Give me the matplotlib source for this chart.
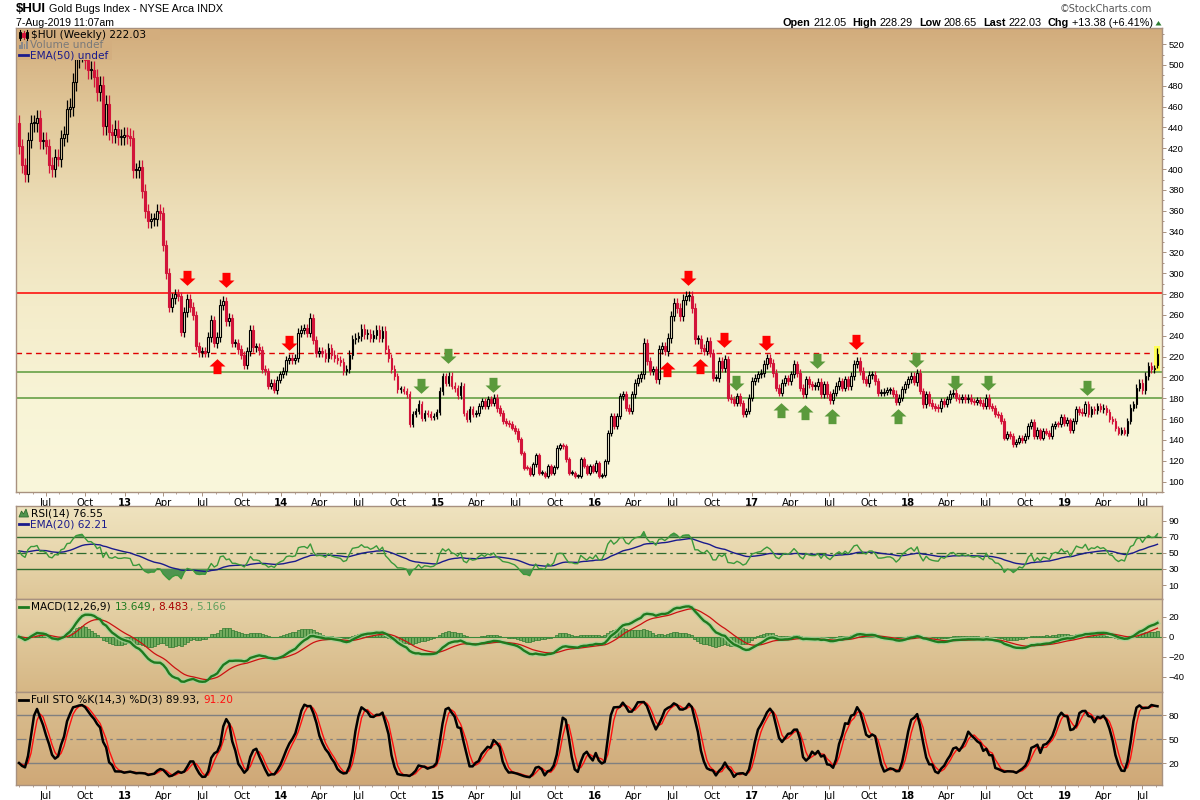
import numpy as np
import pandas as pd
import matplotlib
matplotlib.use('Agg')
import matplotlib.pyplot as plt
from matplotlib.path import Path
from matplotlib.colors import LinearSegmentedColormap
from matplotlib.transforms import Affine2D
from matplotlib.patches import Rectangle, Polygon
from matplotlib.lines import Line2D

# ---------------- data ----------------
START_DATE = '2012-04-30'
FIRST_OPEN = 444.0
LAST_OPEN, LAST_HIGH, LAST_LOW = 212.05, 228.29, 208.65

closes_2012_2014 = [422, 404, 395, 428, 444, 444, 449, 427, 428, 422,
                    404, 400, 412, 410, 430, 434, 458, 460, 484, 506,
                    512, 516, 505, 495, 495, 488, 474, 481, 441, 463,
                    436, 433, 439, 431, 431, 433, 432, 430, 399, 399,
                    402, 379, 360, 350, 352, 352, 360, 358, 327, 300,
                    268, 276, 280, 278, 244, 263, 275, 268, 260, 230,
                    224, 225, 224, 239, 255, 233, 239, 270, 273, 254,
                    257, 233, 233, 227, 222, 212, 225, 246, 229, 229,
                    226, 208, 206, 192, 195, 188, 198, 203, 206, 217,
                    219, 217, 219, 243, 246, 247, 243, 257, 236]
closes_2014_2016 = [223.7, 225, 223.7, 219, 228.5, 222, 219, 217, 215, 206,
                    208, 222, 236.5, 238, 239.7, 246.7, 241.7, 242, 238, 241,
                    246, 238, 245, 227, 219, 208, 201, 188.6, 188.6, 187,
                    183.8, 155, 164.6, 167.8, 174.8, 161.4, 166, 164.6, 162, 163,
                    167, 187, 201, 195, 201.3, 192, 189.5, 183, 191.8, 166,
                    159.8, 169.4, 164.6, 166, 172.6, 177.4, 172.6, 178.9, 175.8, 180.6,
                    170.3, 166.2, 158.2, 156.6, 155, 151.8, 148.6, 140.6, 127.8, 113.5,
                    112.8, 107, 116.6, 125.6, 108.7, 108.7, 105.5, 115.1, 108.7, 114.1,
                    132.6, 134.9, 134, 121.4, 108.7, 108.7, 105.5, 105.5, 121.4, 115,
                    108.7, 115, 110.3, 118.2, 105.5, 106.4, 119.8, 147, 163, 153.4,
                    163, 182]
closes_2016_2018 = [183.8, 171, 167.8, 183.8, 195, 199.7, 202.9, 233.3, 215.7, 206.1,
                    207.7, 198.1, 226.9, 230.1, 225.3, 238.1, 258.9, 271.7, 266.9, 258.9,
                    274.8, 278, 278, 266.9, 236.5, 236.5, 228.5, 225.3, 234.9, 223.7,
                    199.7, 199.7, 215.7, 209.3, 217.3, 180.6, 179, 175.8, 182.2, 175.8,
                    164.6, 167.8, 180.6, 196.5, 199.7, 202.9, 204.5, 212.5, 218.9, 214.1,
                    204.5, 190.2, 185.4, 194.9, 199.1, 196.5, 202.9, 212.5, 204.5, 190.2,
                    183.8, 198.1, 193.4, 191.8, 191.8, 195.9, 183.8, 193.4, 183.8, 178,
                    185.4, 191.8, 196.5, 190.2, 198.1, 191.8, 201.3, 213.2, 215.7, 206.1,
                    198.1, 194.9, 202.3, 202.3, 196.5, 185.4, 185.4, 186.3, 187.6, 187.6,
                    184.4, 176.7, 180.6, 188.6, 193.4, 198.1]
closes_2018_2019 = [201.3, 195.9, 204.5, 187, 174.2, 183.8, 175.8, 172.6, 171, 170.3,
                    177.4, 174.8, 179, 184.4, 185.4, 180.6, 179, 181.2, 179, 180.6,
                    177.4, 176.7, 178, 175.8, 172.6, 180.6, 172.6, 171, 164.6, 164,
                    158.2, 142.2, 146, 143.8, 135.8, 138.4, 142.2, 139.6, 143.8, 153.4,
                    157.6, 143.8, 149.3, 142.2, 148.6, 147, 143.8, 153.4, 155.6, 155,
                    162, 156.6, 158.8, 149.3, 158.2, 169.4, 167.2, 166.2, 174.2, 164.6,
                    169.4, 168.4, 172.6, 169.4, 171, 167.2, 159.8, 158.2, 151.2, 147,
                    149.3, 147, 158.2, 171, 174.2, 190.2, 195, 187.6, 201.3, 211,
                    207.7, 208.65, 222.03]

resistance_red = 281.5
dashed_red = 223.0
support_green = [205.5, 180.0]

red_down_wk = [55.8, 68.9, 89.8, 222.6, 234.6, 248.6, 278.5]
red_down_px = [295.3, 293.4, 233.2, 295.8, 236.1, 232.8, 233.7]
red_up_wk = [65.9, 215.7, 226.7]
red_up_px = [211.3, 207.9, 210.8]
green_down_wk = [133.7, 142.7, 157.7, 238.7, 265.5, 298.5, 311.6, 322.5, 355.5]
green_down_px = [192.2, 220.8, 193.1, 195.0, 215.6, 217.0, 195.0, 194.6, 190.3]
green_up_wk = [253.6, 261.5, 270.5, 292.6]
green_up_px = [168.8, 166.9, 163.0, 163.0]

price_ticks = list(range(100, 521, 20))
rsi_ticks = [10, 30, 50, 70, 90]
macd_ticks = [-40, -20, 0, 20]
sto_ticks = [20, 50, 80]
month_names = {1: None, 4: 'Apr', 7: 'Jul', 10: 'Oct'}

# ---------------- derived series ----------------
closes = np.array(closes_2012_2014 + closes_2014_2016 + closes_2016_2018 + closes_2018_2019, float)
n = len(closes)
xs = np.arange(n)
prev = np.r_[FIRST_OPEN, closes[:-1]]
opens = prev.copy()
opens[-1] = LAST_OPEN
top = np.maximum(opens, closes)
bot = np.minimum(opens, closes)
WICK = 0.018
highs = top + WICK * closes
lows = bot - WICK * closes
highs[-1] = LAST_HIGH
lows[-1] = LAST_LOW
down = closes < prev

c = pd.Series(closes)
d = c.diff().fillna(0).values
g = np.clip(d, 0, None)
lo = np.clip(-d, 0, None)
ag, al = g[1:15].mean(), lo[1:15].mean()
rsi = []
for i in range(n):
    if i > 0:
        ag = (ag * 13 + g[i]) / 14
        al = (al * 13 + lo[i]) / 14
    rsi.append(100 - 100 / (1 + ag / al) if al > 0 else 100)
rsi = np.array(rsi)
rsi_ema = pd.Series(rsi).ewm(span=20, adjust=False).mean().values

ema12 = c.ewm(span=12, adjust=False).mean()
ema26 = c.ewm(span=26, adjust=False).mean()
macd = (ema12 - ema26).values
sig = pd.Series(macd).ewm(span=9, adjust=False).mean().values
hist = macd - sig

hh = pd.Series(highs).rolling(14, min_periods=1).max()
ll = pd.Series(lows).rolling(14, min_periods=1).min()
fastk = 100 * (c - ll) / (hh - ll)
fullk = fastk.rolling(3, min_periods=1).mean()
fulld = fullk.rolling(3, min_periods=1).mean()

# ticks from dates
start = pd.Timestamp(START_DATE)
tick_pos, tick_lab, tick_bold = [], [], []
for dt in pd.date_range('2012-07-01', '2019-08-01', freq='MS'):
    if dt.month in month_names:
        tick_pos.append((dt - start).days / 7.0)
        if dt.month == 1:
            tick_lab.append('%02d' % (dt.year % 100)); tick_bold.append(True)
        else:
            tick_lab.append(month_names[dt.month]); tick_bold.append(False)
minor_pos = [(dt - start).days / 7.0 for dt in pd.date_range('2012-05-01', '2019-08-01', freq='MS')]

# ---------------- figure ----------------
W, H = 1200, 800
plt.rcParams['font.family'] = 'DejaVu Sans'
fig = plt.figure(figsize=(12, 8), dpi=100)
fig.patch.set_facecolor('white')
PX = Affine2D().scale(1.0 / W, -1.0 / H).translate(0, 1) + fig.transFigure
L, R = 16, 1162
XL = (-1.0, n + 0.5)
SPINE = '#A8917F'

def panel(ytop, ybot, ylim, cols):
    ax = fig.add_axes([L / W, 1 - ybot / H, (R - L) / W, (ybot - ytop) / H])
    cmap = LinearSegmentedColormap.from_list('g', cols)
    ax.imshow(np.linspace(0, 1, 256)[:, None], aspect='auto', cmap=cmap,
              extent=(0, 1, 0, 1), transform=ax.transAxes, zorder=0)
    ax.set_autoscale_on(False)
    ax.set_xlim(XL)
    ax.set_ylim(ylim)
    for s in ax.spines.values():
        s.set_color(SPINE)
        s.set_linewidth(1.0)
    ax.yaxis.tick_right()
    ax.tick_params(axis='y', which='both', length=3, width=0.7, color=SPINE, pad=1.5,
                   labelsize=6.8, labelfontfamily='Liberation Sans', direction='out')
    ax.set_xticks(tick_pos)
    ax.set_xticks(minor_pos, minor=True)
    ax.tick_params(axis='x', which='major', length=3, width=0.7, color=SPINE, pad=1.0,
                   labelsize=7.2, direction='out')
    ax.tick_params(axis='x', which='minor', length=1.5, width=0.6, color=SPINE, direction='out')
    return ax, cmap

main_cols = ['#D2AC7C', '#E2CA9C', '#EDDFB9', '#F4ECCA', '#F8F4D6', '#FAF7DB']
ax, main_cmap = panel(28, 492, (92.4, 535.5), main_cols)
ax.set_yticks(price_ticks)
ax.set_yticks(list(range(90, 536, 10)), minor=True)
ax.tick_params(axis='y', which='minor', length=1.5)
ax.set_xticklabels(tick_lab)
for t, b in zip(ax.get_xticklabels(), tick_bold):
    if b:
        t.set_fontweight('bold')

# horizontal lines
ax.axhline(resistance_red, color='#FF0000', lw=1.1, zorder=2)
ax.axhline(dashed_red, color='#E00000', lw=1.0, dashes=(4, 3), zorder=2)
for v in support_green:
    ax.axhline(v, color='#5A9A3A', lw=1.1, zorder=2)

# highlight last candle
ax.add_patch(Rectangle((n - 1 - 1.0, LAST_LOW - 2), 2.0, LAST_HIGH - LAST_LOW + 4,
                       facecolor='#FFFF55', edgecolor='none', zorder=2.5))

RED = '#D2143A'
col = np.where(down, RED, 'black')
ax.vlines(xs, top, highs, colors=col, lw=0.9, zorder=3)
ax.vlines(xs, lows, bot, colors=col, lw=0.9, zorder=3)
bh = np.maximum(top - bot, 0.9)
face = [RED if dn else 'none' for dn in down]
ax.bar(xs, bh, bottom=bot, width=0.6, color=face, edgecolor=col, linewidth=0.8, zorder=3.2)

def arrow_marker(up):
    v = np.array([(-0.25, 0.48), (0.25, 0.48), (0.25, 0.0), (0.5, 0.0), (0.0, -0.46),
                  (-0.5, 0.0), (-0.25, 0.0), (-0.25, 0.48)])
    if up:
        v[:, 1] = -v[:, 1]
    return Path(v, closed=True)

S = 132
ax.scatter(red_down_wk, red_down_px, marker=arrow_marker(False), s=S, c='#FF0000', linewidths=0, zorder=5)
ax.scatter(red_up_wk, red_up_px, marker=arrow_marker(True), s=S, c='#FF0000', linewidths=0, zorder=5)
ax.scatter(green_down_wk, green_down_px, marker=arrow_marker(False), s=S, c='#5B9A3C', linewidths=0, zorder=5)
ax.scatter(green_up_wk, green_up_px, marker=arrow_marker(True), s=S, c='#5B9A3C', linewidths=0, zorder=5)

# RSI
rsi_cols = ['#EFE3BF', '#E8D7AE', '#DEC697']
axr, _ = panel(505.7, 599, (-7.4, 108.7), rsi_cols)
axr.set_yticks(rsi_ticks)
axr.tick_params(axis='x', which='both', labelbottom=False, length=0)
for v in (70, 30):
    axr.axhline(v, color='#2E6B2E', lw=1.0, zorder=2)
axr.axhline(50, color='#2E6B2E', lw=0.9, dashes=(8, 3, 2, 3), zorder=2)
axr.fill_between(xs, rsi, 70, where=rsi > 70, interpolate=True, color='#4F944F', lw=0, zorder=2.5)
axr.fill_between(xs, rsi, 30, where=rsi < 30, interpolate=True, color='#4F944F', lw=0, zorder=2.5)
axr.plot(xs, rsi_ema, color='#1A1A8C', lw=1.0, zorder=3)
axr.plot(xs, rsi, color='#3A993A', lw=1.0, zorder=3.5)

# MACD
macd_cols = ['#E6D3A8', '#DEC597', '#D6B785']
axm, _ = panel(599, 692, (-55.3, 37.7), macd_cols)
axm.set_yticks(macd_ticks)
axm.tick_params(axis='x', which='both', labelbottom=False, length=0)
axm.bar(xs, hist, width=1.0, color='#72AA5E', edgecolor='#2F7A2F', linewidth=0.5, zorder=2)
axm.axhline(0, color='#3A8A3A', lw=0.8, zorder=2.2)
axm.plot(xs, macd, color='#A9D39A', lw=3.6, alpha=0.8, zorder=3)
axm.plot(xs, sig, color='#CC1111', lw=0.9, zorder=3.2)
axm.plot(xs, macd, color='#1E7A1E', lw=1.7, zorder=3.4)

# STO
sto_cols = ['#DABE90', '#D5B585', '#CFA877']
axs, _ = panel(692, 785, (-7.1, 109.1), sto_cols)
axs.set_yticks(sto_ticks)
axs.set_xticklabels(tick_lab)
for t, b in zip(axs.get_xticklabels(), tick_bold):
    if b:
        t.set_fontweight('bold')
for v in (80, 20):
    axs.axhline(v, color='#808080', lw=1.0, zorder=2)
axs.axhline(50, color='#808080', lw=0.9, dashes=(8, 3, 2, 3), zorder=2)
axs.plot(xs, fulld, color='#FF1010', lw=1.0, zorder=3)
axs.plot(xs, fullk, color='black', lw=1.8, zorder=3.2)

# ---------------- texts ----------------
renderer = fig.canvas.get_renderer()

def pieces(x, y, parts, ha='left', size=7.5, family='DejaVu Sans', bbox=None):
    ts, ws = [], []
    for s, color, weight, gap in parts:
        t = fig.text(0, 0, s, transform=PX, color=color, fontweight=weight, va='center',
                     ha='left', fontsize=size, family=family, zorder=10)
        if bbox is not None:
            t.set_bbox(dict(facecolor=bbox, edgecolor='none', pad=0.5))
        ts.append(t)
        ws.append(t.get_window_extent(renderer).width + gap)
    total = sum(ws)
    cx = x - total if ha == 'right' else x
    for t, w in zip(ts, ws):
        t.set_position((cx, y))
        cx += w

def gcol(y):
    return main_cmap((y - 28) / 464.0)

# header
fig.text(16, 9.5, '$HUI', transform=PX, fontsize=9.5, fontweight='bold', family='Liberation Sans', va='center')
fig.text(49, 9.5, 'Gold Bugs Index - NYSE Arca INDX', transform=PX, fontsize=7.8, family='Liberation Sans', va='center')
fig.text(16, 23, '7-Aug-2019 11:07am', transform=PX, fontsize=7.6, family='Liberation Sans', va='center')
fig.text(1152, 9.5, '\u00a9StockCharts.com', transform=PX, fontsize=7.0, family='DejaVu Sans', color='#555555',
         va='center', ha='right')
sp = 6
pieces(1153, 23.3, [('Open', 'black', 'bold', 3), ('212.05', 'black', 'normal', sp),
                    ('High', 'black', 'bold', 3), ('228.29', 'black', 'normal', sp),
                    ('Low', 'black', 'bold', 3), ('208.65', 'black', 'normal', sp),
                    ('Last', 'black', 'bold', 3), ('222.03', 'black', 'normal', sp),
                    ('Chg', 'black', 'bold', 3), ('+13.38 (+6.41%)', 'black', 'normal', 0)],
       ha='right', size=7.8, family='Liberation Sans')
fig.patches.append(Polygon([(1155.5, 25.5), (1161.5, 25.5), (1158.5, 21)], closed=True,
                           transform=PX, facecolor='#2E7D32', edgecolor='none', figure=fig))

# main legend
fig.patches.append(Rectangle((17, 29), 95, 31, transform=PX, facecolor=gcol(36), edgecolor='none',
                             figure=fig, zorder=9))
fig.patches.append(Rectangle((112, 29), 48, 11, transform=PX, facecolor=gcol(32), edgecolor='none',
                             figure=fig, zorder=9))
pieces(31, 35.3, [('$HUI (Weekly) 222.03', 'black', 'normal', 0)], size=7.6)
pieces(29.5, 45.3, [('Volume undef', '#7A7A7A', 'normal', 0)], size=7.6)
pieces(29.5, 55.3, [('EMA(50) undef', '#1A1A8C', 'normal', 0)], size=7.6)
# icons
for (x0, y0, y1, b0, b1, colr, fill) in [(20, 30, 40, 32, 38, 'black', 'none'),
                                          (23.5, 31, 39, 33, 37, RED, RED),
                                          (27, 30, 40, 32, 38, 'black', 'none')]:
    fig.lines.append(Line2D([x0, x0], [y0, y1], transform=PX, color=colr, lw=0.8, figure=fig, zorder=11))
    fig.patches.append(Rectangle((x0 - 1.2, b0), 2.4, b1 - b0, transform=PX, facecolor=fill,
                                 edgecolor=colr, lw=0.7, figure=fig, zorder=11))
for i, hgt in enumerate([4, 7, 5, 8]):
    fig.patches.append(Rectangle((19 + i * 2.4, 49 - hgt), 1.6, hgt, transform=PX, facecolor='#8A8A8A',
                                 edgecolor='none', figure=fig, zorder=11))
fig.lines.append(Line2D([19, 28], [55.3, 55.3], transform=PX, color='#1A1A8C', lw=2, figure=fig, zorder=11))

# RSI legend
fig.patches.append(Polygon([(19, 517), (21.5, 511), (23.5, 514), (26, 509), (28.5, 517)], closed=True,
                           transform=PX, facecolor='#4F944F', edgecolor='#2E6B2E', lw=0.6, figure=fig, zorder=11))
pieces(31, 513.7, [('RSI(14) 76.55', 'black', 'normal', 0)], size=7.6)
fig.lines.append(Line2D([19, 28], [524.3, 524.3], transform=PX, color='#1A1A8C', lw=2, figure=fig, zorder=11))
pieces(29.5, 524.3, [('EMA(20) 62.21', '#1A1A8C', 'normal', 0)], size=7.6)

# MACD legend
fig.lines.append(Line2D([19, 28], [606.7, 606.7], transform=PX, color='#1E7A1E', lw=2, figure=fig, zorder=11))
pieces(31, 606.7, [('MACD(12,26,9)', 'black', 'normal', 4), ('13.649', '#1E7A1E', 'normal', 0),
                   (',', '#AA0000', 'normal', 4), ('8.483', '#AA0000', 'normal', 0),
                   (',', '#5FA05F', 'normal', 4), ('5.166', '#5FA05F', 'normal', 0)], size=7.6)

# STO legend
fig.lines.append(Line2D([19, 28], [700, 700], transform=PX, color='black', lw=2, figure=fig, zorder=11))
pieces(31, 700, [('Full STO %K(14,3) %D(3) 89.93,', 'black', 'normal', 4),
                 ('91.20', '#FF1010', 'normal', 0)], size=7.6)

fig.savefig('out.png', dpi=100, facecolor='white')
